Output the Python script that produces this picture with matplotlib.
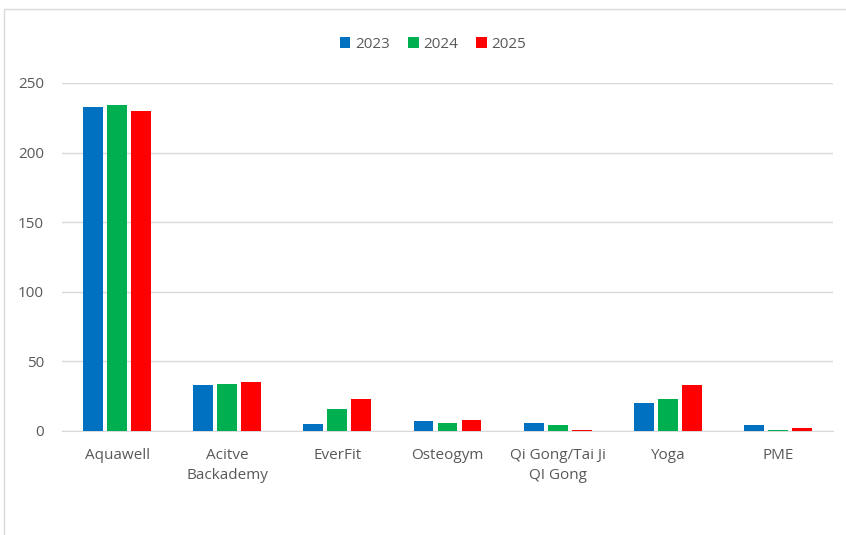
import numpy as np
import matplotlib
matplotlib.use('Agg')
import matplotlib.pyplot as plt
from matplotlib.patches import Rectangle

categories = ['Aquawell', 'Acitve\nBackademy', 'EverFit', 'Osteogym',
              'Qi Gong/Tai Ji\nQI Gong', 'Yoga', 'PME']
years = ['2023', '2024', '2025']
vals_2023 = [233, 33, 5, 7, 6, 20, 4]
vals_2024 = [234, 34, 16, 6, 4, 23, 1]
vals_2025 = [230, 35, 23, 8, 1, 33, 2]
colors = ['#0070C0', '#00B050', '#FF0000']

plt.rcParams['font.family'] = ['Open Sans', 'DejaVu Sans']

fig = plt.figure(figsize=(8.46, 5.35), dpi=100)
ax = fig.add_axes([62 / 846, 1 - 431 / 535, (833 - 62) / 846, (431 - 83) / 535])

# chart frame (cropped at right/bottom)
fig.patches.append(Rectangle((4 / 846, -0.1), 1.2, 1 - 9 / 535 + 0.1,
                             transform=fig.transFigure, fill=False,
                             edgecolor='#d9d9d9', lw=1))

x = np.arange(len(categories))
w = 0.18
step = 0.218
for i, (vals, c, yr) in enumerate(zip([vals_2023, vals_2024, vals_2025], colors, years)):
    ax.bar(x + (i - 1) * step, vals, width=w, color=c, label=yr, zorder=3)

ax.set_ylim(0, 250)
ax.set_xlim(-0.5, len(categories) - 0.5)
ax.set_yticks(range(0, 251, 50))
ax.set_xticks(x)
ax.set_xticklabels(categories, linespacing=1.45)
ax.grid(True, axis='y', color='#d9d9d9', lw=1, zorder=0)
for s in ['top', 'right', 'left']:
    ax.spines[s].set_visible(False)
ax.spines['bottom'].set_color('#d9d9d9')
ax.tick_params(axis='both', length=0, labelsize=11, colors='#595959')
ax.tick_params(axis='x', pad=12)
ax.tick_params(axis='y', pad=13)

leg = fig.legend(loc='center', bbox_to_anchor=(433 / 846, 1 - 44 / 535), ncol=3,
                 frameon=False, fontsize=11, handlelength=0.7, handleheight=0.7,
                 columnspacing=1.2, handletextpad=0.3)
for t in leg.get_texts():
    t.set_color('#595959')

plt.savefig('out.png', dpi=100)
plt.close()
